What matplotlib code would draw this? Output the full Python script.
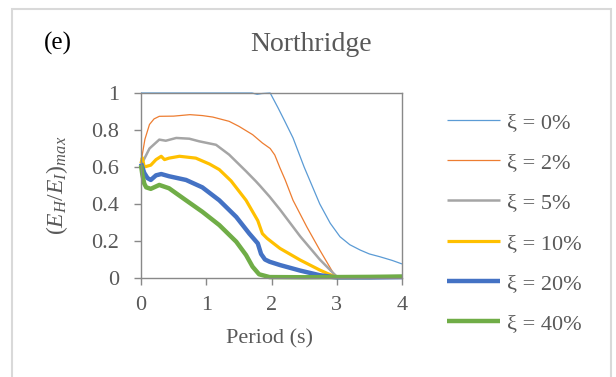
import matplotlib
matplotlib.use("Agg")
import matplotlib.pyplot as plt
from matplotlib.patches import Rectangle

plt.rcParams['font.family'] = ['Liberation Serif', 'DejaVu Serif']
plt.rcParams['mathtext.fontset'] = 'custom'
plt.rcParams['mathtext.rm'] = 'Liberation Serif'
plt.rcParams['mathtext.it'] = 'Liberation Serif:italic'

GREY = '#595959'

# data
labels = ['ξ = 0%', 'ξ = 2%', 'ξ = 5%', 'ξ = 10%', 'ξ = 20%', 'ξ = 40%']

x0 = [0, 0.5, 1.0, 1.5, 1.7, 1.78, 1.85, 1.98, 2.1, 2.2, 2.33, 2.5, 2.62, 2.74, 2.9, 3.05, 3.2, 3.36, 3.5, 3.66, 3.85, 4.0]
y0 = [1.0, 1.0, 1.0, 1.0, 1.0, 0.993, 0.997, 1.0, 0.92, 0.85, 0.757, 0.6, 0.5, 0.40, 0.296, 0.223, 0.18, 0.151, 0.13, 0.115, 0.095, 0.076]

x2 = [0, 0.02, 0.06, 0.13, 0.2, 0.28, 0.5, 0.75, 0.94, 1.1, 1.35, 1.5, 1.71, 1.86, 1.98, 2.05, 2.13, 2.21, 2.33, 2.54, 2.74, 2.95, 3.0, 3.5, 4.0]
y2 = [0.62, 0.667, 0.75, 0.83, 0.86, 0.874, 0.875, 0.883, 0.878, 0.87, 0.847, 0.82, 0.775, 0.73, 0.70, 0.665, 0.595, 0.53, 0.42, 0.277, 0.151, 0.025, 0.005, 0.003, 0.005]

x5 = [0, 0.03, 0.13, 0.28, 0.38, 0.54, 0.74, 0.89, 1.15, 1.35, 1.61, 1.76, 1.82, 1.97, 2.13, 2.44, 2.74, 2.95, 3.0, 3.5, 4.0]
y5 = [0.62, 0.63, 0.70, 0.748, 0.742, 0.757, 0.753, 0.739, 0.72, 0.667, 0.577, 0.523, 0.50, 0.44, 0.37, 0.225, 0.10, 0.025, 0.008, 0.003, 0.005]

x10 = [0, 0.02, 0.05, 0.15, 0.23, 0.31, 0.36, 0.43, 0.59, 0.84, 1.05, 1.2, 1.38, 1.61, 1.79, 1.86, 1.93, 2.02, 2.13, 2.44, 2.74, 2.95, 3.0, 3.5, 4.0]
y10 = [0.62, 0.65, 0.60, 0.61, 0.64, 0.658, 0.64, 0.648, 0.658, 0.648, 0.616, 0.586, 0.525, 0.42, 0.31, 0.24, 0.215, 0.19, 0.16, 0.097, 0.043, 0.01, 0.005, 0.003, 0.005]

x20 = [0, 0.02, 0.05, 0.1, 0.15, 0.23, 0.31, 0.43, 0.69, 0.94, 1.2, 1.46, 1.66, 1.79, 1.84, 1.9, 1.97, 2.13, 2.44, 2.74, 2.95, 3.0, 3.5, 4.0]
y20 = [0.62, 0.60, 0.568, 0.54, 0.53, 0.555, 0.562, 0.55, 0.53, 0.49, 0.42, 0.33, 0.24, 0.187, 0.13, 0.10, 0.088, 0.07, 0.04, 0.015, 0.005, 0.003, 0.003, 0.005]

x40 = [0, 0.02, 0.05, 0.08, 0.15, 0.28, 0.43, 0.69, 0.94, 1.2, 1.46, 1.61, 1.71, 1.81, 1.97, 2.5, 3.0, 3.5, 4.0]
y40 = [0.61, 0.56, 0.51, 0.49, 0.482, 0.503, 0.485, 0.42, 0.358, 0.286, 0.196, 0.124, 0.061, 0.02, 0.005, 0.004, 0.005, 0.006, 0.008]

xs = [x0, x2, x5, x10, x20, x40]
ys = [y0, y2, y5, y10, y20, y40]
colors = ['#5B9BD5', '#ED7D31', '#A5A5A5', '#FFC000', '#4472C4', '#70AD47']
widths = [0.9, 0.9, 1.8, 2.3, 3.2, 3.2]

fig = plt.figure(figsize=(6.16, 3.77), dpi=100)
ax = fig.add_axes([0.2289, 0.2626, 0.4237, 0.4907])

for x, y, c, w, lab in zip(xs, ys, colors, widths, labels):
    ax.plot(x, y, color=c, lw=w, label=lab, clip_on=False, solid_capstyle='butt')

ax.set_xlim(0, 4)
ax.set_ylim(0, 1)
ax.set_xticks([0, 1, 2, 3, 4])
ax.set_xticklabels(['0', '1', '2', '3', '4'])
ax.set_yticks([0, 0.2, 0.4, 0.6, 0.8, 1.0])
ax.set_yticklabels(['0', '0.2', '0.4', '0.6', '0.8', '1'])
ax.tick_params(colors='#898989', labelcolor=GREY, labelsize=16, length=5, width=1, direction='out')
ax.tick_params(axis='y', pad=11)
ax.tick_params(axis='x', pad=8)
for s in ax.spines.values():
    s.set_color('#898989')
    s.set_linewidth(1)

fig.text(270 / 616, 1 - 343 / 377, 'Period (s)', fontsize=16, color=GREY, ha='center', va='baseline')
fig.text(57 / 616, 1 - 185 / 377, r'$(E_H/E_I)_{max}$', rotation=90, fontsize=17, color=GREY,
         ha='center', va='center')

fig.text(311 / 616, 1 - 51 / 377, 'Northridge', fontsize=20, color=GREY, ha='center', va='baseline')
fig.text(44 / 616, 1 - 50 / 377, '(e)', fontsize=18, color='black', ha='left', va='baseline')

leg = fig.legend(loc='upper left', bbox_to_anchor=(447 / 616, 1 - 112 / 377), frameon=False,
                 fontsize=16, handlelength=2.39, handletextpad=0.32, labelspacing=0.89,
                 borderpad=0, borderaxespad=0)
for t in leg.get_texts():
    t.set_color(GREY)

# outer frame
fig.patches.append(Rectangle((12 / 616, -0.1), 599 / 616, 1.1 - 9 / 377, transform=fig.transFigure,
                             fill=False, edgecolor='#D9D9D9', lw=1.5))

fig.savefig('out.png', dpi=100)
